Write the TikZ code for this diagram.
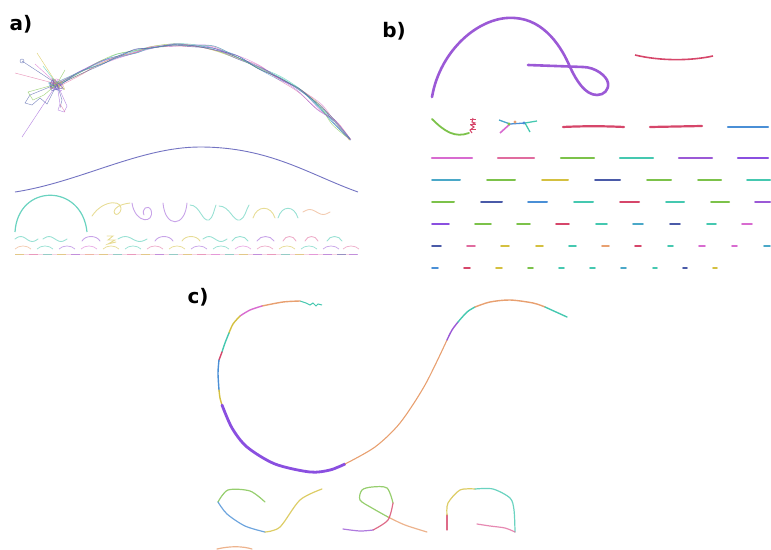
\documentclass[tikz,border=0pt]{standalone}
\usepackage{fontspec}
\setsansfont{DejaVu Sans}
\definecolor{cpur}{HTML}{9B59D6}
\definecolor{cred}{HTML}{D6466A}
\definecolor{cblu}{HTML}{4A8FD6}
\definecolor{cgrn}{HTML}{7CC24A}
\definecolor{ctea}{HTML}{45C8B0}
\definecolor{ccya}{HTML}{4AA8C8}
\definecolor{cmag}{HTML}{D86BD0}
\definecolor{cpnk}{HTML}{E06C9F}
\definecolor{cyel}{HTML}{D4C040}
\definecolor{cnav}{HTML}{4A5AA8}
\definecolor{cora}{HTML}{E8A070}
\definecolor{cvio}{HTML}{8A4FE0}
\definecolor{cwav}{HTML}{7373C2}
\tikzset{
  lab/.style={font=\sffamily\bfseries\fontsize{20}{24}\selectfont, inner sep=0pt},
  bl/.style={line width=2.2pt, line cap=round},
  al/.style={line width=0.9pt, opacity=0.55, line cap=round},
  ms/.style={line width=0.45pt, opacity=0.7},
  cl/.style={line width=1.4pt, line cap=round}
}
\newcommand\wv[4]{\draw[#4,al] plot[domain=0:1,samples=13,variable=\t,smooth] ({#1+#2*\t},{#3-2.5*sin(360*\t)});}
\newcommand\arc[4]{\draw[#4,al] (#1,#3) .. controls ({#1+0.2*#2},{#3-6}) and ({#1+0.8*#2},{#3-6}) .. ({#1+#2},#3);}
\begin{document}
\begin{tikzpicture}[x=1pt,y=-1pt]
\useasboundingbox (0,0) rectangle (771,549);
\pgfmathsetseed{7}
% labels
\node[lab] (la) at (21,24) {a)};
\node[lab] (lb) at (394,31) {b)};
\node[lab] (lc) at (198,297) {c)};

% ================= panel a =================
\coordinate (clu) at (57,84);
\foreach \c in {cpur,ctea,cyel,cpnk,cblu,cgrn,cmag,cnav,cpur,ctea,cnav} {
  \draw[\c,ms] plot[smooth] coordinates {({57+3*rand},{85+3*rand}) ({80+2.5*rand},{72+2.5*rand}) ({100+2.5*rand},{63+2.5*rand}) ({117+2.5*rand},{56+2.5*rand}) ({135+2*rand},{51+2*rand}) ({150+2*rand},{48+1.5*rand}) ({173+1.5*rand},{45+1.5*rand}) ({193+2*rand},{46+1.5*rand}) ({213+2*rand},{48+2*rand}) ({237+2*rand},{57+2*rand}) ({260+2*rand},{67+2*rand}) ({280+2*rand},{78+2*rand}) ({300+2*rand},{90+2*rand}) ({320+3*rand},{107+3*rand}) ({335+3*rand},{122+3*rand}) ({350+1*rand},{140+1*rand})};
}
% cluster
\foreach \c in {cpur,ctea,cnav,cyel,cmag,cgrn,cblu,cpnk,cpur,cnav} {
  \draw[\c,ms] plot[smooth] coordinates {({57+8*rand},{85+6*rand}) ({57+8*rand},{85+6*rand}) ({57+8*rand},{85+6*rand}) ({57+8*rand},{85+6*rand}) ({57+8*rand},{85+6*rand})};
}
\draw[cnav,ms] (clu) -- (22,61);
\draw[cnav,ms] (22,61) circle (2);
\draw[cyel,ms] (clu) .. controls (48,70) .. (37,53);
\draw[cpnk,ms] (clu) -- (15,73);
\draw[ctea,ms] (clu) -- (43,66);
\draw[cmag,ms] (clu) -- (35,64);
\draw[cpur,ms] (clu) -- (22,137);
\draw[cgrn,ms] (clu) -- (65,70);
\draw[cnav,ms] (clu) -- (30,95) -- (25,103) -- (32,105) -- (40,98) -- (47,104) -- (clu);
\draw[cgrn,ms] (clu) -- (28,92) -- (33,100) -- (44,95) -- (clu);
\draw[cpur,ms] (clu) -- (60,104) -- (58,110) -- (64,112) -- (67,106) -- (clu);
\draw[cnav,ms] (clu) -- (62,100) -- (60,108);
\draw[cpnk,ms] (60,104) -- (65,112);

% big wave
\draw[cwav,line width=0.9pt] (15,192) .. controls (80,182) and (140,147) .. (200,147)
  .. controls (270,147) and (310,175) .. (358,192);

% row of curves
\draw[ctea,line width=1.2pt,opacity=0.8] (15,232) .. controls (18,183) and (82,183) .. (87,232);
\draw[cyel,al] (92,216) .. controls (104,198) and (126,200) .. (120,212) .. controls (115,220) and (106,206) .. (130,203);
\draw[cpur,al] (132,203) .. controls (135,224) and (155,224) .. (151,210) .. controls (148,204) and (141,209) .. (144,215);
\draw[cpur,al] (163,203) .. controls (165,228) and (185,228) .. (187,203);
\draw[ctea,al] (190,205) .. controls (200,205) and (202,222) .. (209,220) .. controls (213,218) and (214,210) .. (216,205);
\draw[ctea,al] (219,206) .. controls (230,206) and (233,222) .. (240,220) .. controls (245,218) and (246,210) .. (249,205);
\draw[cyel,al] (253,218) .. controls (257,205) and (271,205) .. (275,218);
\draw[ctea,al] (278,218) .. controls (282,205) and (294,205) .. (298,218);
\wv{303}{27}{212}{cora}

% row 2
\wv{15}{23}{239}{ctea}
\wv{43}{24}{239}{ctea}
\arc{82}{18}{241}{cpur}
\draw[cyel,al] (107,236) -- (113,236) -- (108,240) -- (115,240) -- (108,244) -- (116,242);
\wv{118}{29}{239}{ctea}
\arc{155}{18}{241}{cpur}
\arc{182}{18}{241}{cyel}
\wv{203}{24}{239}{ctea}
\arc{232}{16}{241}{ctea}
\arc{257}{17}{241}{cpur}
\arc{283}{13}{241}{cpnk}
\arc{305}{13}{241}{cpnk}
\arc{327}{15}{241}{ctea}

% row 3
\foreach \xx/\c [count=\i] in {15/cora,37/ctea,59/cpur,81/cmag,103/cyel,125/ctea,147/cpnk,169/cyel,191/cpur,213/ctea,235/cmag,257/cpnk,279/cyel,301/ctea,323/cpur,343/cpnk} {
  \draw[\c,line width=0.8pt,opacity=0.5] (\xx,249) .. controls ({\xx+4},245) and ({\xx+12},245) .. ({\xx+16},249);
}
% row 4
\draw[cpnk,line width=0.5pt,opacity=0.3] (15,254) -- (357,254);
\foreach \xx/\c in {15/cyel,29/cpnk,43/ctea,57/cyel,71/cpur,85/cora,99/cyel,113/ctea,127/cpnk,141/cyel,155/cpur,169/ctea,183/cyel,197/cpnk,211/cmag,225/ctea,239/cyel,253/cpur,267/cpnk,281/ctea,295/cyel,309/cmag,323/cpur,337/cnav,349/cpur} {
  \draw[\c,line width=0.8pt,opacity=0.55] (\xx,254) -- ({\xx+9},254);
}

% ================= panel b =================
\draw[cpur,line width=2.6pt,line join=round,line cap=round] (432,97) .. controls (440,50) and (480,15) .. (515,18)
  .. controls (545,20) and (562,48) .. (570,67)
  .. controls (576,80) and (585,95) .. (597,95)
  .. controls (604,95) and (609,90) .. (608,83)
  .. controls (607,76) and (595,67) .. (583,67)
  -- (528,65);
\draw[cred,line width=1.6pt] (635,55) .. controls (660,61) and (690,61) .. (713,56);

% row 1
\draw[cgrn,bl,line width=1.8pt] (432,119) .. controls (445,132) and (455,138) .. (469,133);
\draw[cred,line width=1pt] (473,118) -- (472,122) -- (475,123) -- (471,125) -- (474,127) -- (470,130) -- (472,133);
\foreach \yy in {119,124,129} \draw[cred,line width=1pt] (470,\yy) -- (476,\yy);
\draw[ccya,line width=1.3pt] (499,120) -- (510,124);
\draw[cblu,line width=1.3pt] (510,124) -- (525,123);
\draw[ctea,line width=1.3pt] (525,123) -- (537,121);
\draw[cmag,line width=1.6pt] (510,124) -- (500,133);
\draw[ctea,line width=1.3pt] (525,123) -- (530,132);
\fill[cgrn] (509,124) circle (1.6);
\fill[cora] (515,122) circle (1.6);
\fill[cblu] (524,123) circle (1.6);
\draw[cred,bl] (563,127) .. controls (583,126) and (604,126) .. (624,127);
\draw[cred,bl] (650,127) -- (702,126);
\draw[cblu,bl] (728,127) -- (768,127);

% rows 2-7
\foreach \a/\b/\c in {432/472/cmag,498/534/cpnk,561/594/cgrn,620/653/ctea,679/712/cpur,738/768/cvio}
  \draw[\c,bl] (\a,158) -- (\b,158);
\foreach \a/\b/\c in {432/460/ccya,487/515/cgrn,542/568/cyel,595/620/cnav,647/671/cgrn,698/721/cgrn,747/770/ctea}
  \draw[\c,bl,line width=2pt] (\a,180) -- (\b,180);
\foreach \a/\b/\c in {432/454/cgrn,481/502/cnav,528/547/cblu,574/593/ctea,620/639/cred,666/684/ctea,711/729/cgrn,755/770/cpur}
  \draw[\c,bl,line width=2pt] (\a,202) -- (\b,202);
\foreach \a/\b/\c in {432/449/cvio,475/491/cgrn,517/530/cgrn,556/569/cred,596/607/ctea,633/643/ccya,670/680/cnav,707/716/ctea,742/752/cmag}
  \draw[\c,bl,line width=1.8pt] (\a,224) -- (\b,224);
\foreach \a/\b/\c in {432/441/cnav,467/475/cpnk,501/509/cyel,536/543/cyel,569/576/ctea,602/609/cora,635/641/cred,668/673/ctea,699/705/cmag,732/737/cmag,764/770/ccya}
  \draw[\c,bl,line width=1.8pt] (\a,246) -- (\b,246);
\foreach \a/\b/\c in {432/438/cblu,464/470/cred,496/502/cyel,528/533/cgrn,559/564/ctea,590/595/ctea,621/626/ccya,653/657/ctea,683/687/cnav,713/717/cyel}
  \draw[\c,bl,line width=1.6pt] (\a,268) -- (\b,268);

% ================= panel c =================
\draw[ctea,line width=1pt] (322,305) -- (318,304) -- (316,306) -- (313,303) -- (310,305) -- (306,303) -- (300,301);
\draw[cora,cl] plot[smooth] coordinates {(300,301) (283,302) (262,306)};
\draw[cmag,cl] plot[smooth] coordinates {(262,306) (250,310) (240,316)};
\draw[cyel,cl] plot[smooth] coordinates {(240,316) (233,324) (229,333)};
\draw[ctea,cl] plot[smooth] coordinates {(229,333) (225,343) (222,352)};
\draw[cred,cl] plot[smooth] coordinates {(222,352) (219,360)};
\draw[cblu,cl] plot[smooth] coordinates {(219,360) (218,373) (219,390)};
\draw[cyel,cl] plot[smooth] coordinates {(219,390) (220,398) (222,405)};
\draw[cvio,line width=2.8pt,line cap=round] plot[smooth] coordinates {(222,405) (232,428) (247,447) (275,464) (310,472) (330,470) (345,464)};
\draw[cora,line width=1.1pt] plot[smooth] coordinates {(345,464) (375,447) (400,423) (425,385) (447,340)};
\draw[cpur,cl] plot[smooth] coordinates {(447,340) (452,330) (458,322)};
\draw[ctea,cl] plot[smooth] coordinates {(458,322) (467,312) (475,307)};
\draw[cora,cl] plot[smooth] coordinates {(475,307) (490,302) (510,300) (533,303) (545,307)};
\draw[ctea,cl] plot[smooth] coordinates {(545,307) (567,317)};

% small curves
\draw[cgrn,cl,line width=1.2pt,opacity=0.8] plot[smooth] coordinates {(265,502) (250,491) (228,490) (218,502)};
\draw[cblu,cl,line width=1.2pt,opacity=0.8] plot[smooth] coordinates {(218,502) (227,514) (245,526) (265,532)};
\draw[cyel,cl,line width=1.2pt,opacity=0.8] plot[smooth] coordinates {(265,532) (280,527) (300,500) (322,489)};
\draw[cora,cl,line width=1.2pt,opacity=0.8] plot[smooth] coordinates {(427,532) (405,525) (388,517)};
\draw[cgrn,cl,line width=1.2pt,opacity=0.8] plot[smooth] coordinates {(388,517) (372,508) (360,500) (362,490) (372,487) (387,488) (393,503)};
\draw[cred,cl,line width=1.2pt,opacity=0.8] plot[smooth] coordinates {(393,503) (388,520) (373,530)};
\draw[cpur,cl,line width=1.2pt,opacity=0.8] plot[smooth] coordinates {(373,530) (360,531) (343,529)};
\draw[cred,cl,line width=1.2pt,opacity=0.8] (447,530) -- (447,515);
\draw[cyel,cl,line width=1.2pt,opacity=0.8] plot[smooth] coordinates {(447,515) (448,503) (460,490) (475,489)};
\draw[ctea,cl,line width=1.2pt,opacity=0.8] plot[smooth] coordinates {(475,489) (493,489) (510,498) (514,510) (515,532)};
\draw[cpnk,cl,line width=1.2pt,opacity=0.8] plot[smooth] coordinates {(515,532) (505,528) (490,526) (477,524)};
\draw[cora,cl,line width=1.2pt,opacity=0.8] (217,549) .. controls (230,546) and (242,546) .. (252,549);
\end{tikzpicture}
\end{document}
